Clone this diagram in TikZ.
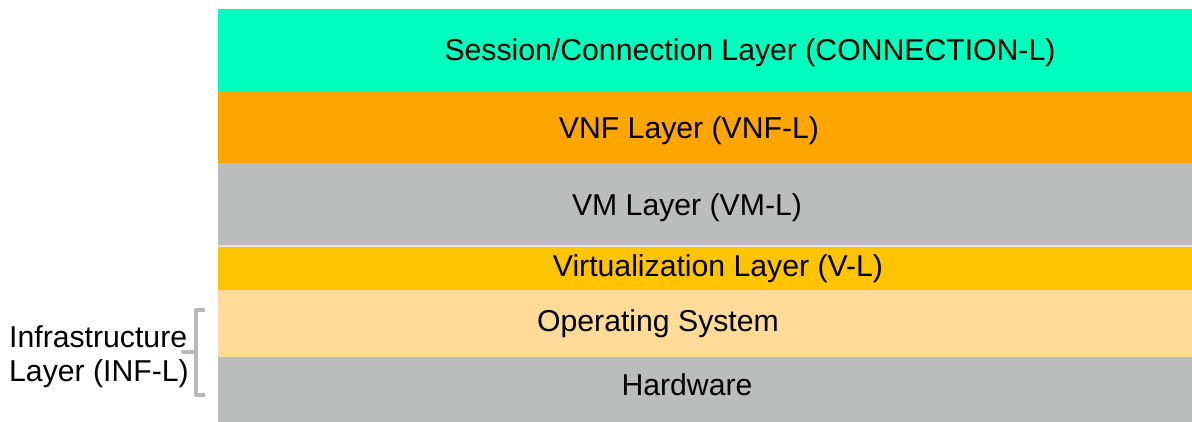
\documentclass[tikz,border=0pt]{standalone}
\usepackage{fontspec}
\setmainfont{Liberation Sans}
\definecolor{connL}{HTML}{00FFBE}
\definecolor{vnfL}{HTML}{FFA500}
\definecolor{vmL}{HTML}{BBBDBC}
\definecolor{virtL}{HTML}{FFC400}
\definecolor{osL}{HTML}{FFDB98}
\definecolor{hwL}{HTML}{BBBDBC}
\definecolor{braceC}{HTML}{B8B8B8}
\begin{document}
\begin{tikzpicture}[x=1pt,y=-1pt,
  lbl/.style={font=\fontsize{30.2}{36}\selectfont,text=black,inner sep=0pt,anchor=center}]
\useasboundingbox (0,0) rectangle (1192,422);
% layer bands, top to bottom
\fill[connL] (218,9) rectangle (1192,92);
\fill[vnfL]  (218,92) rectangle (1192,163);
\fill[vmL]   (218,163) rectangle (1192,245);
\fill[white!60!vmL] (218,245) rectangle (1192,247);
\fill[virtL] (218,247) rectangle (1192,290);
\fill[osL]   (218,290) rectangle (1192,357);
\fill[hwL]   (218,357) rectangle (1192,422);
% layer names
\node[lbl] (conn) at (750,53) {Session/Connection Layer (CONNECTION-L)};
\node[lbl] (vnf)  at (689,131) {VNF Layer (VNF-L)};
\node[lbl] (vm)   at (687,208) {VM Layer (VM-L)};
\node[lbl] (virt) at (718,269) {Virtualization Layer (V-L)};
\node[lbl] (os)   at (658,324) {Operating System};
\node[lbl] (hw)   at (687,385) {Hardware};
% infrastructure grouping
\node[lbl,anchor=west] (infa) at (9,337) {Infrastructure};
\node[lbl,anchor=west] (infb) at (9,374) {Layer (INF-L)};
\coordinate (bt) at (205,310);
\coordinate (bb) at (205,395);
\draw[braceC,line width=4pt,line join=round]
  (bt) -| (196,352) -- (183,352) -- (196,352) |- (bb);
\end{tikzpicture}
\end{document}
